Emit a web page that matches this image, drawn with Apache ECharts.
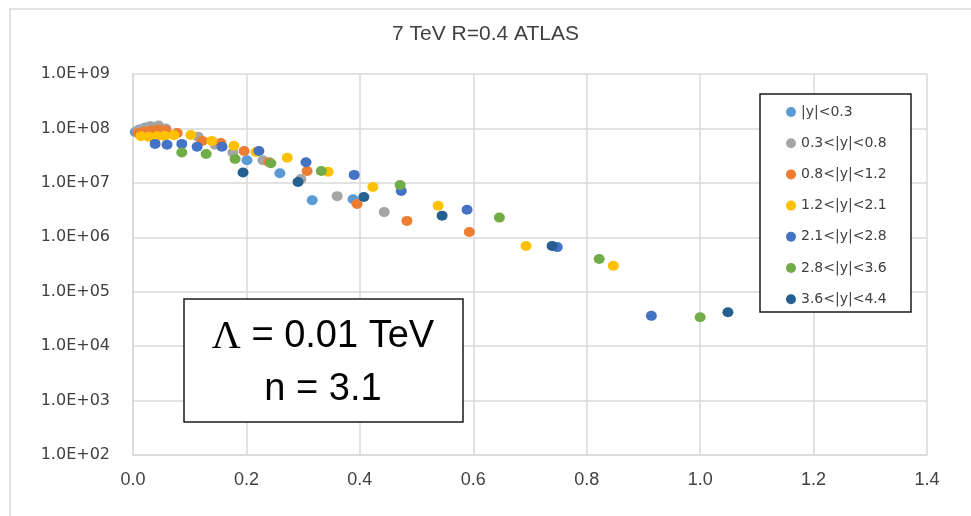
<!DOCTYPE html>
<html>
<head>
<meta charset="utf-8">
<script src="https://cdn.jsdelivr.net/npm/echarts@6/dist/echarts.min.js"></script>
<style>
  html, body { margin: 0; padding: 0; background: #fff; }
  #chart { width: 971px; height: 516px; }
</style>
</head>
<body>
<div id="chart"></div>
<script>
// Rapidity bins shown in the legend
const seriesNames = ['|y|<0.3', '0.3<|y|<0.8', '0.8<|y|<1.2', '1.2<|y|<2.1', '2.1<|y|<2.8', '2.8<|y|<3.6', '3.6<|y|<4.4'];

// Points per rapidity bin: [x, value]
const binY00to03 = [[0.004, 8.6e7], [0.012, 9.6e7], [0.022, 1.04e8], [0.032, 1.08e8], [0.201, 2.6e7], [0.259, 1.5e7], [0.316, 4.8e6], [0.388, 5.0e6]];
const binY03to08 = [[0.008, 9.2e7], [0.018, 1.0e8], [0.030, 1.1e8], [0.045, 1.13e8], [0.058, 1.0e8], [0.115, 7.0e7], [0.145, 5.0e7], [0.176, 3.6e7], [0.229, 2.6e7], [0.296, 1.18e7], [0.360, 5.7e6], [0.443, 2.9e6]];
const binY08to12 = [[0.009, 8.2e7], [0.020, 8.8e7], [0.032, 9.2e7], [0.045, 9.6e7], [0.058, 9.2e7], [0.078, 8.2e7], [0.122, 5.9e7], [0.155, 5.4e7], [0.196, 3.85e7], [0.240, 2.4e7], [0.307, 1.65e7], [0.395, 4.1e6], [0.483, 2.0e6], [0.593, 1.25e6]];
const binY12to21 = [[0.014, 7.2e7], [0.028, 7.0e7], [0.042, 7.2e7], [0.056, 7.3e7], [0.072, 7.5e7], [0.102, 7.6e7], [0.139, 5.9e7], [0.178, 4.8e7], [0.217, 3.7e7], [0.272, 2.9e7], [0.344, 1.6e7], [0.423, 8.4e6], [0.538, 3.8e6], [0.693, 6.9e5], [0.847, 3.0e5]];
const binY21to28 = [[0.039, 5.2e7], [0.060, 5.0e7], [0.086, 5.2e7], [0.113, 4.6e7], [0.157, 4.6e7], [0.222, 3.85e7], [0.305, 2.4e7], [0.390, 1.4e7], [0.473, 7.1e6], [0.589, 3.2e6], [0.748, 6.6e5], [0.914, 3.6e4]];
const binY28to36 = [[0.086, 3.6e7], [0.129, 3.4e7], [0.180, 2.75e7], [0.243, 2.3e7], [0.332, 1.65e7], [0.471, 9.1e6], [0.646, 2.3e6], [0.822, 4.0e5], [1.000, 3.4e4]];
const binY36to44 = [[0.194, 1.55e7], [0.291, 1.04e7], [0.407, 5.5e6], [0.545, 2.5e6], [0.739, 6.9e5], [1.049, 4.2e4]];

// Axis tick labels
const xTickLabels = ['0.0', '0.2', '0.4', '0.6', '0.8', '1.0', '1.2', '1.4'];
const yTickLabels = ['1.0E+02', '1.0E+03', '1.0E+04', '1.0E+05', '1.0E+06', '1.0E+07', '1.0E+08', '1.0E+09'];

const palette = ['#5B9BD5', '#A5A5A5', '#ED7D31', '#FFC000', '#4472C4', '#70AD47', '#255E91'];
const allBins = [binY00to03, binY03to08, binY08to12, binY12to21, binY21to28, binY28to36, binY36to44];

const chart = echarts.init(document.getElementById('chart'), null, { renderer: 'canvas' });

const gridColor = '#d9d9d9';

const option = {
  animation: false,
  backgroundColor: '#ffffff',
  title: {
    text: '7 TeV R=0.4 ATLAS',
    left: 'center',
    top: 24,
    padding: [0, 0, 0, 23],
    textStyle: { fontFamily: 'Liberation Sans', fontSize: 21, fontWeight: 'normal', color: '#404040' }
  },
  grid: { left: 133, right: 44, top: 74, bottom: 61 },
  xAxis: {
    type: 'value',
    min: 0, max: 1.4, interval: 0.2,
    axisLine: { show: true, lineStyle: { color: gridColor, width: 1.5 } },
    axisTick: { show: false },
    splitLine: { show: true, lineStyle: { color: gridColor, width: 1.5 } },
    axisLabel: {
      margin: 16,
      fontFamily: 'Liberation Sans', fontSize: 18, color: '#404040',
      formatter: v => xTickLabels[Math.round(v / 0.2)]
    }
  },
  yAxis: {
    type: 'log', logBase: 10,
    min: 100, max: 1e9,
    axisLine: { show: true, lineStyle: { color: gridColor, width: 1.5 } },
    axisTick: { show: false },
    splitLine: { show: true, lineStyle: { color: gridColor, width: 1.5 } },
    axisLabel: {
      margin: 23,
      fontFamily: 'DejaVu Sans', fontSize: 16, color: '#404040',
      formatter: v => yTickLabels[Math.round(Math.log10(v)) - 2]
    }
  },
  legend: {
    orient: 'vertical',
    left: 781, top: 99,
    itemGap: 15.2,
    itemWidth: 10, itemHeight: 10,
    icon: 'circle',
    z: 20,
    textStyle: { fontFamily: 'DejaVu Sans', fontSize: 14, color: '#404040', lineHeight: 16 },
    data: seriesNames
  },
  series: seriesNames.map((name, i) => ({
    name: name,
    type: 'scatter',
    symbol: 'circle',
    symbolSize: [11, 10],
    itemStyle: { color: palette[i], opacity: 1 },
    data: allBins[i]
  })),
  graphic: [
    {
      type: 'rect', z: 0, silent: true,
      shape: { x: 10, y: 9, width: 1000, height: 600 },
      style: { fill: 'none', stroke: gridColor, lineWidth: 1.5 }
    },
    {
      type: 'rect', z: 10, silent: true,
      shape: { x: 760, y: 94, width: 151, height: 218 },
      style: { fill: '#ffffff', stroke: '#1a1a1a', lineWidth: 1.5 }
    },
    {
      type: 'rect', z: 10, silent: true,
      shape: { x: 184, y: 299, width: 279, height: 123 },
      style: { fill: '#ffffff', stroke: '#1a1a1a', lineWidth: 1.5 }
    },
    {
      type: 'text', z: 11, silent: true,
      x: 323, y: 337,
      style: {
        text: '{s|Λ} = 0.01 TeV',
        fontFamily: 'Liberation Sans', fontSize: 38, fill: '#000',
        align: 'center', verticalAlign: 'middle',
        rich: { s: { fontFamily: 'Liberation Serif', fontSize: 40, fill: '#000' } }
      }
    },
    {
      type: 'text', z: 11, silent: true,
      x: 323, y: 390,
      style: {
        text: 'n = 3.1',
        fontFamily: 'Liberation Sans', fontSize: 38, fill: '#000',
        align: 'center', verticalAlign: 'middle'
      }
    }
  ]
};

chart.setOption(option);
</script>
</body>
</html>
